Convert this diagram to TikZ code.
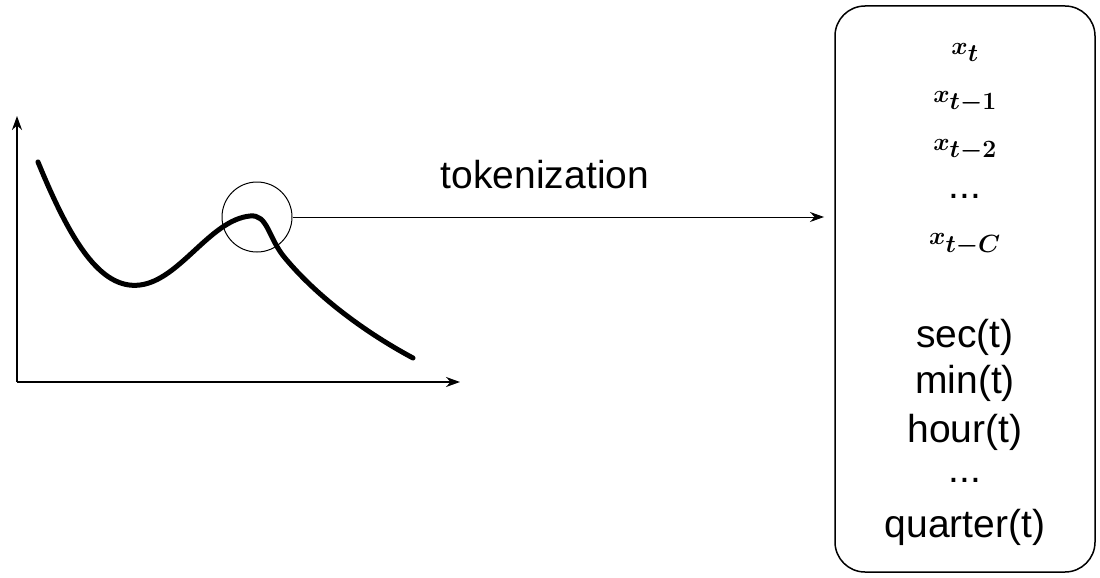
\documentclass[tikz,border=0pt]{standalone}
\usepackage{fontspec}
\usepackage{amsmath}
\setsansfont{Liberation Sans}
\usetikzlibrary{arrows.meta}
\begin{document}
\begin{tikzpicture}[x=1pt,y=-1pt,
  ax/.style={line width=2pt,-{Stealth[length=14pt,width=10pt]}},
  lbl/.style={font=\sffamily\fontsize{39}{42}\selectfont},
  mth/.style={font=\fontsize{47}{50}\selectfont\boldmath}]
\useasboundingbox (0,0) rectangle (1100,578);
\coordinate (o) at (17,382);
\coordinate (ytop) at (17,116);
\coordinate (xend) at (460,382);
\draw[ax] (o) -- (ytop);
\draw[ax] (o) -- (xend);
\draw[line width=5pt,line cap=round] (38,162) .. controls (70,240) and (100,290) .. (140,285)
  .. controls (180,280) and (210,220) .. (250,216)
  .. controls (268,214) and (268,238) .. (285,258)
  .. controls (320,300) and (370,335) .. (413,358);
\node[draw,circle,line width=1pt,minimum size=70pt,inner sep=0pt] (c) at (257,217) {};
\node[draw,rounded corners=30pt,line width=1.5pt,minimum width=260pt,minimum height=566pt] (b) at (965,289) {};
\coordinate (aend) at (824,217);
\draw[line width=1pt,-{Stealth[length=14pt,width=10pt]}] (c.east) -- (aend);
\node[lbl] (tok) at (545,175) {tokenization};
\node[mth] (t1) at (965,52) {$x_t$};
\node[mth] (t2) at (965,102) {$x_{t-1}$};
\node[mth] (t3) at (965,150) {$x_{t-2}$};
\node[lbl] (t4) at (965,196) {...};
\node[mth] (t5) at (965,245) {$x_{t-C}$};
\node[lbl] (s1) at (965,337) {sec(t)};
\node[lbl] (s2) at (965,383) {min(t)};
\node[lbl] (s3) at (965,432) {hour(t)};
\node[lbl] (s4) at (965,480) {...};
\node[lbl] (s5) at (965,527) {quarter(t)};
\end{tikzpicture}
\end{document}
